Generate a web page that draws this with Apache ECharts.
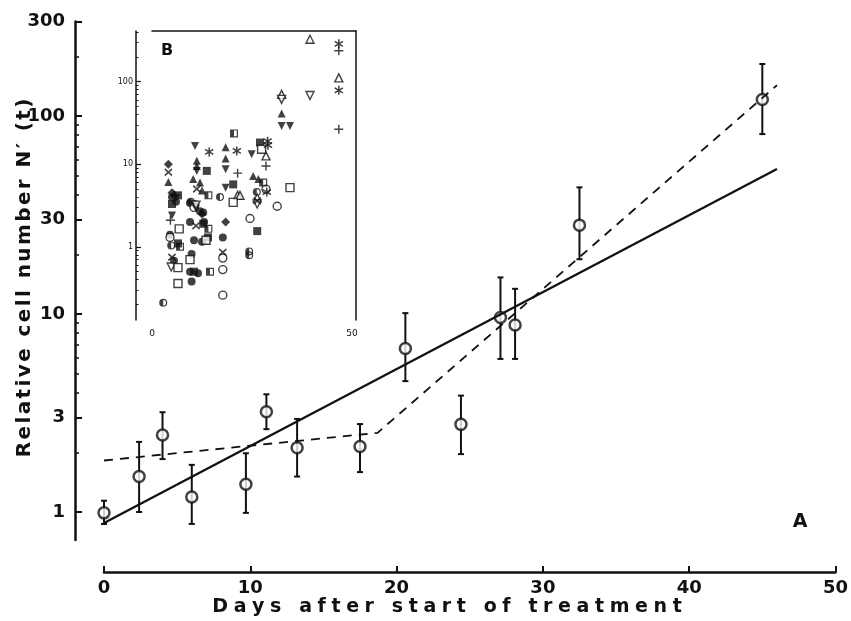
<!DOCTYPE html>
<html>
<head>
<meta charset="utf-8">
<script src="https://cdn.jsdelivr.net/npm/echarts@6/dist/echarts.min.js"></script>
<style>
  html, body { margin: 0; padding: 0; background: #fff; }
  #chart { width: 851px; height: 621px; }
</style>
</head>
<body>
<div id="chart"></div>
<script>
(function () {
    'use strict';

    // ---- Panel A: mean relative cell number with error bars ----
    var DAYS  = [0, 2.4, 4.0, 6.0, 9.7, 11.1, 13.2, 17.5, 20.6, 24.4, 27.1, 28.1, 32.5, 45.0];
    var MEANS = [0.99, 1.51, 2.45, 1.19, 1.38, 3.21, 2.11, 2.14, 6.7, 2.77, 9.6, 8.8, 28.1, 121];
    var UPPER = [1.14, 2.26, 3.19, 1.73, 1.98, 3.93, 2.95, 2.78, 10.1, 3.87, 15.3, 13.4, 43.6, 183];
    var LOWER = [0.87, 1.0, 1.85, 0.87, 0.99, 2.62, 1.51, 1.59, 4.58, 1.96, 5.93, 5.93, 18.9, 81];

    // single exponential fit (solid) and two-phase fit (dashed)
    var FIT_DAYS = [0, 46];
    var FIT_VALUES = [0.88, 54];
    var KINK_DAYS = [0, 18.7, 46];
    var KINK_VALUES = [1.82, 2.51, 143];

    var Y_LABELS = [1, 3, 10, 30, 100, 300];
    var Y_MINOR = [2, 4, 5, 6, 7, 8, 9, 20, 40, 50, 60, 70, 80, 90, 200];

    // ---- Panel B: individual tumours, [day, relative number] per symbol ----
    var B_FILLED_CIRCLE = [[9.5, 3.4], [10.7, 3.3], [12, 2.7], [12.8, 2.6], [9.5, 2.0], [13, 2.0], [17.7, 1.3],
        [9.9, 0.82], [9.5, 0.5], [11.5, 0.48], [9.9, 0.38], [5, 4.0], [6, 3.5], [4.5, 1.4], [5.5, 0.68],
        [10.5, 1.2], [12.5, 1.15]];
    var B_OPEN_CIRCLE = [[24.5, 2.2], [31.3, 3.1], [28.5, 5.0], [17.7, 0.73], [17.7, 0.53], [17.7, 0.26],
        [4.5, 1.3], [10.5, 3.0]];
    var B_HALF_CIRCLE = [[17, 4.0], [24.3, 0.79], [24.3, 0.88], [2.8, 0.21], [4.8, 1.04], [26.2, 4.6], [9.7, 3.5]];
    var B_FILLED_TRI = [[4.1, 6.1], [11.2, 11], [11.2, 9.5], [10.3, 6.6], [12, 6.0], [18.4, 16.1], [18.4, 11.7],
        [25.3, 7.2], [26.6, 6.6], [32.4, 41], [5.5, 4.4], [12.5, 4.8]];
    var B_FILLED_INV_TRI = [[10.75, 16.6], [11.2, 8.3], [18.4, 8.7], [18.4, 5.2], [24.9, 13.2], [32.4, 29],
        [34.5, 29], [5, 2.4], [6, 3.9], [11, 2.9]];
    var B_OPEN_TRI = [[46.7, 111], [39.5, 326], [32.4, 70], [28.5, 12.6], [21.4, 4.2], [22, 4.2], [26.3, 3.9]];
    var B_OPEN_INV_TRI = [[39.5, 68], [32.4, 61], [4.8, 0.57], [11, 3.2], [26.3, 3.3]];
    var B_FILLED_SQUARE = [[27, 18.3], [13.7, 8.3], [20.3, 5.7], [26.3, 1.55], [6.5, 4.2], [12.8, 1.9],
        [10.5, 0.5], [6.5, 1.1], [14, 1.3], [5, 3.3]];
    var B_OPEN_SQUARE = [[27.4, 15.2], [20.3, 3.45], [34.5, 5.2], [6.5, 0.56], [6.5, 0.36], [13.5, 1.2],
        [6.8, 1.65], [9.5, 0.7]];
    var B_HALF_SQUARE = [[20.5, 23.6], [27.8, 6.0], [14.1, 4.2], [14.1, 1.65], [14.5, 0.5], [7, 1.0]];
    var B_DIAMOND = [[4.1, 10], [18.4, 2.0], [12.5, 2.5], [5, 4.5]];
    var B_PLUS = [[46.7, 237], [46.7, 26.5], [28.5, 9.5], [21.4, 7.8], [4.6, 2.1]];
    var B_STAR = [[46.7, 287], [46.7, 78.5], [28.9, 19], [21.2, 14.5], [14.3, 14.1], [28.7, 4.6], [29, 17]];
    var B_CROSS = [[4.1, 8], [11.2, 5.0], [26.3, 3.6], [17.7, 0.86], [11, 1.8], [5, 0.75]];

    var B_Y_LABELS = [1, 10, 100];
    var B_Y_MINOR = [0.2, 0.3, 0.4, 0.5, 0.6, 0.7, 0.8, 0.9, 2, 3, 4, 5, 6, 7, 8, 9,
        20, 30, 40, 50, 60, 70, 80, 90, 200, 300, 400];

    var INK = '#111';
    var FONT = 'DejaVu Sans';
    var lg = Math.log10;

    var PLUS = 'path://M4.2 0L5.8 0L5.8 4.2L10 4.2L10 5.8L5.8 5.8L5.8 10L4.2 10L4.2 5.8L0 5.8L0 4.2L4.2 4.2Z';
    var STAR = 'path://M4.2 0L5.8 0L5.8 10L4.2 10Z M1.137 1.53L9.737 7.13L8.863 8.47L0.263 2.87Z M9.737 2.87L1.137 8.47L0.263 7.13L8.863 1.53Z';
    var CROSS = 'path://M1.137 1.53L9.737 7.13L8.863 8.47L0.263 2.87Z M9.737 2.87L1.137 8.47L0.263 7.13L8.863 1.53Z';
    var HALF_CIRCLE = 'path://M10 0A10 10 0 1 1 10 20A10 10 0 1 1 10 0Z M10 3A7 7 0 1 0 10 17A7 7 0 1 0 10 3Z M10 17A7 7 0 0 1 10 3Z';
    var HALF_SQUARE = 'path://M0 0L20 0L20 20L0 20Z M3 3L3 17L17 17L17 3Z M3 3L10 3L10 17L3 17Z';

    function logPairs(xs, ys) {
        return xs.map(function (x, i) { return [x, lg(ys[i])]; });
    }
    function logPts(pts) {
        return pts.map(function (p) { return [p[0], lg(p[1])]; });
    }
    // wide letter spacing as in the original lettering
    function spaced(s) {
        return s.split('').map(function (c) { return '{c|' + c + '}'; }).join('');
    }

    var errData = DAYS.map(function (d, i) { return [d, lg(LOWER[i]), lg(UPPER[i])]; });

    function renderErr(params, api) {
        var lo = api.coord([api.value(0), api.value(1)]);
        var hi = api.coord([api.value(0), api.value(2)]);
        var w = 3;
        var st = { stroke: INK, lineWidth: 2 };
        return {
            type: 'group',
            children: [
                { type: 'line', shape: { x1: lo[0], y1: lo[1], x2: hi[0], y2: hi[1] }, style: st },
                { type: 'line', shape: { x1: lo[0] - w, y1: lo[1], x2: lo[0] + w, y2: lo[1] }, style: st },
                { type: 'line', shape: { x1: hi[0] - w, y1: hi[1], x2: hi[0] + w, y2: hi[1] }, style: st }
            ]
        };
    }

    function insetSeries(data, symbol, open, rotate, size) {
        return {
            type: 'scatter', xAxisIndex: 1, yAxisIndex: 2,
            data: logPts(data), symbol: symbol, symbolSize: size || 8,
            symbolRotate: rotate || 0,
            itemStyle: open ? { color: '#fff', borderColor: INK, borderWidth: 1.4 } : { color: INK },
            emphasis: { disabled: true }
        };
    }

    var chart = echarts.init(document.getElementById('chart'));

    var mainAxisLine = { show: true, onZero: false, lineStyle: { color: INK, width: 2.5 } };
    var thinLine = { show: true, onZero: false, lineStyle: { color: INK, width: 1.5 } };
    var noLine = { show: false, onZero: false };
    var mainLabel = { color: INK, fontFamily: FONT, fontWeight: 'bold', fontSize: 18 };

    var option = {
        animation: false,
        backgroundColor: '#fff',
        grid: [
            { left: 104, top: 21.5, width: 735, height: 518.5 },
            { left: 152, top: 31, width: 204, height: 289 }
        ],
        xAxis: [
            {
                type: 'value', gridIndex: 0, position: 'bottom', min: 0, max: 50, interval: 10, offset: 32,
                axisLine: mainAxisLine,
                axisTick: { inside: true, length: 6, lineStyle: { color: INK, width: 2 } },
                axisLabel: Object.assign({ margin: 7 }, mainLabel),
                splitLine: { show: false }
            },
            {
                type: 'value', gridIndex: 1, position: 'bottom', min: 0, max: 51,
                axisLine: noLine, axisTick: { show: false },
                axisLabel: { customValues: [0, 50], margin: 9, color: INK, fontFamily: FONT, fontSize: 9 },
                splitLine: { show: false }
            },
            {
                type: 'value', gridIndex: 1, position: 'top', min: 0, max: 51,
                axisLine: thinLine,
                axisTick: { show: false }, axisLabel: { show: false }, splitLine: { show: false }
            }
        ],
        yAxis: [
            {
                type: 'value', gridIndex: 0, position: 'left', min: lg(0.722), max: lg(300), offset: 29,
                axisLine: mainAxisLine,
                axisTick: { inside: true, length: 4, customValues: Y_MINOR.map(lg), lineStyle: { color: INK, width: 1.5 } },
                axisLabel: Object.assign({
                    margin: 10, customValues: Y_LABELS.map(lg),
                    formatter: function (v) { return String(Math.round(Math.pow(10, v))); }
                }, mainLabel),
                splitLine: { show: false }
            },
            {
                type: 'value', gridIndex: 0, position: 'left', min: lg(0.722), max: lg(300), offset: 29,
                axisLine: noLine,
                axisTick: { inside: true, length: 7, customValues: Y_LABELS.map(lg), lineStyle: { color: INK, width: 2 } },
                axisLabel: { show: false }, splitLine: { show: false }
            },
            {
                type: 'value', gridIndex: 1, position: 'left', min: lg(0.13), max: lg(410), offset: 16,
                axisLine: thinLine,
                axisTick: { inside: true, length: 2.5, customValues: B_Y_MINOR.map(lg), lineStyle: { color: INK, width: 1 } },
                axisLabel: {
                    margin: 3, customValues: B_Y_LABELS.map(lg), color: INK, fontFamily: FONT, fontSize: 8,
                    formatter: function (v) { return String(Math.round(Math.pow(10, v))); }
                },
                splitLine: { show: false }
            },
            {
                type: 'value', gridIndex: 1, position: 'left', min: lg(0.13), max: lg(410), offset: 16,
                axisLine: noLine,
                axisTick: { inside: true, length: 5, customValues: B_Y_LABELS.map(lg), lineStyle: { color: INK, width: 1.2 } },
                axisLabel: { show: false }, splitLine: { show: false }
            },
            {
                type: 'value', gridIndex: 1, position: 'right', min: lg(0.13), max: lg(410),
                axisLine: thinLine,
                axisTick: { show: false }, axisLabel: { show: false }, splitLine: { show: false }
            }
        ],
        series: [
            {
                type: 'line', xAxisIndex: 0, yAxisIndex: 0, data: logPairs(FIT_DAYS, FIT_VALUES),
                symbol: 'none', lineStyle: { color: INK, width: 2.3 }, emphasis: { disabled: true }
            },
            {
                type: 'line', xAxisIndex: 0, yAxisIndex: 0, data: logPairs(KINK_DAYS, KINK_VALUES),
                symbol: 'none', lineStyle: { color: INK, width: 1.8, type: [9, 7] }, emphasis: { disabled: true }
            },
            {
                type: 'custom', xAxisIndex: 0, yAxisIndex: 0, data: errData, renderItem: renderErr,
                encode: { x: 0, y: [1, 2] }
            },
            {
                type: 'scatter', xAxisIndex: 0, yAxisIndex: 0, data: logPairs(DAYS, MEANS),
                symbol: 'circle', symbolSize: 11,
                itemStyle: { color: '#fff', borderColor: INK, borderWidth: 2.5 },
                emphasis: { disabled: true }
            },
            insetSeries(B_FILLED_CIRCLE, 'circle', false),
            insetSeries(B_OPEN_CIRCLE, 'circle', true),
            insetSeries(B_HALF_CIRCLE, HALF_CIRCLE, false),
            insetSeries(B_FILLED_TRI, 'triangle', false),
            insetSeries(B_FILLED_INV_TRI, 'triangle', false, 180),
            insetSeries(B_OPEN_TRI, 'triangle', true),
            insetSeries(B_OPEN_INV_TRI, 'triangle', true, 180),
            insetSeries(B_FILLED_SQUARE, 'rect', false),
            insetSeries(B_OPEN_SQUARE, 'rect', true),
            insetSeries(B_HALF_SQUARE, HALF_SQUARE, false),
            insetSeries(B_DIAMOND, 'diamond', false, 0, 9),
            insetSeries(B_PLUS, PLUS, false, 0, 9),
            insetSeries(B_STAR, STAR, false, 0, 9),
            insetSeries(B_CROSS, CROSS, false, 0, 8)
        ],
        graphic: [
            {
                type: 'text', x: 447, y: 607,
                style: {
                    text: spaced('Days after start of treatment'),
                    fill: INK, fontFamily: FONT, fontWeight: 'bold', fontSize: 19,
                    align: 'center', verticalAlign: 'middle', textAlign: 'center', textVerticalAlign: 'middle',
                    rich: { c: { fill: INK, fontFamily: FONT, fontWeight: 'bold', fontSize: 19, padding: [0, 2.8, 0, 2.8] } }
                }
            },
            {
                type: 'text', x: 25, y: 278, rotation: Math.PI / 2,
                style: {
                    text: spaced('Relative cell number N\u2032 (t)'),
                    fill: INK, fontFamily: FONT, fontWeight: 'bold', fontSize: 20,
                    align: 'center', verticalAlign: 'middle', textAlign: 'center', textVerticalAlign: 'middle',
                    rich: { c: { fill: INK, fontFamily: FONT, fontWeight: 'bold', fontSize: 20, padding: [0, 1.2, 0, 1.2] } }
                }
            },
            {
                type: 'text', x: 800, y: 522,
                style: {
                    text: 'A', fill: INK, fontFamily: FONT, fontWeight: 'bold', fontSize: 19,
                    align: 'center', verticalAlign: 'middle', textAlign: 'center', textVerticalAlign: 'middle'
                }
            },
            {
                type: 'text', x: 167, y: 51,
                style: {
                    text: 'B', fill: INK, fontFamily: FONT, fontWeight: 'bold', fontSize: 16,
                    align: 'center', verticalAlign: 'middle', textAlign: 'center', textVerticalAlign: 'middle'
                }
            }
        ]
    };

    chart.setOption(option);
})();
</script>
</body>
</html>
